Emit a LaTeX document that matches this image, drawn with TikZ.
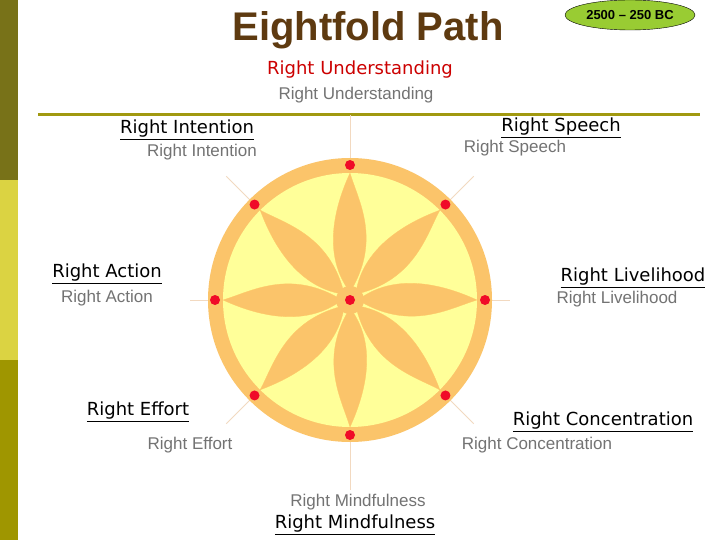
\documentclass[tikz,border=0pt]{standalone}
\usepackage{fontspec}
\usetikzlibrary{shapes.geometric}
\setmainfont{Liberation Sans}
\newfontfamily\lbl{DejaVu Sans}
\definecolor{ring}{RGB}{251,196,106}
\definecolor{inner}{RGB}{255,255,153}
\definecolor{dot}{RGB}{240,10,40}
\begin{document}
\begin{tikzpicture}[x=1pt,y=-1pt,
  blk/.style={font=\lbl\fontsize{18}{20}\selectfont, text=black},
  gry/.style={font=\fontsize{17}{19}\selectfont, text=black!55},
  spoke/.style={draw=orange!30!brown!30, line width=0.8pt},
  petal/.style={fill=ring, draw=orange!70!yellow!60, line width=0.3pt}]
\useasboundingbox (0,0) rectangle (720,540);
\fill[white] (0,0) rectangle (720,540);
\fill[olive!80!black] (0,0) rectangle (18,180);
\fill[olive!45!yellow!70!white] (0,180) rectangle (18,360);
\fill[olive!85!yellow] (0,360) rectangle (18,540);
\draw[olive!70!yellow!90!black, line width=3pt] (38,115) -- (700,115);
\node[font=\bfseries\fontsize{40}{44}\selectfont, text={rgb,255:red,94;green,58;blue,16}] (title) at (368,30) {Eightfold Path};
\node[draw=black, fill={rgb,255:red,153;green,204;blue,51}, ellipse, minimum width=130pt, minimum height=30pt, inner sep=0pt,
  font=\bfseries\fontsize{13}{15}\selectfont] (date) at (630,15) {2500 – 250 BC};
% spokes
\coordinate (c) at (350,300);
\foreach \a/\r in {90/185,45/175,0/160,-45/175,-90/190,-135/175,180/160,135/175}
  \draw[spoke] (c) ++(\a:140pt) -- ++(\a:\r pt-140pt);
% wheel
\fill[ring] (c) circle (142pt);
\fill[inner] (c) circle (127pt);
\foreach \a in {0,45,...,315}{
  \begin{scope}[shift={(c)}, rotate=\a]
    \path[petal] (0,-8) .. controls (-32,-50) and (-10,-105) .. (0,-127)
       .. controls (8,-100) and (32,-60) .. (0,-8) -- cycle;
  \end{scope}}
\fill[ring] (c) circle (14pt);
\foreach \a in {0,45,...,315} \fill[dot] (c) ++(\a:135pt) circle (5pt);
\fill[dot] (c) circle (5pt);
% labels
\node[font=\lbl\fontsize{18}{20}\selectfont, text=red!80!black] (u) at (360,70) {Right Understanding};
\node[gry] (ug) at (356,95) {Right Understanding};
\node[blk] (i) at (187,130) {\underline{Right Intention}};
\node[gry] (ig) at (202,152) {Right Intention};
\node[blk] (s) at (561,128) {\underline{Right Speech}};
\node[gry] (sg) at (515,148) {Right Speech};
\node[blk] (a) at (107,274) {\underline{Right Action}};
\node[gry] (ag) at (107,298) {Right Action};
\node[blk] (l) at (633,278) {\underline{Right Livelihood}};
\node[gry] (lg) at (617,299) {Right Livelihood};
\node[blk] (e) at (138,412) {\underline{Right Effort}};
\node[gry] (eg) at (190,445) {Right Effort};
\node[blk] (co) at (603,422) {\underline{Right Concentration}};
\node[gry] (cog) at (537,445) {Right Concentration};
\node[gry] (mg) at (358,502) {Right Mindfulness};
\node[blk] (m) at (355,525) {\underline{Right Mindfulness}};
\end{tikzpicture}
\end{document}
